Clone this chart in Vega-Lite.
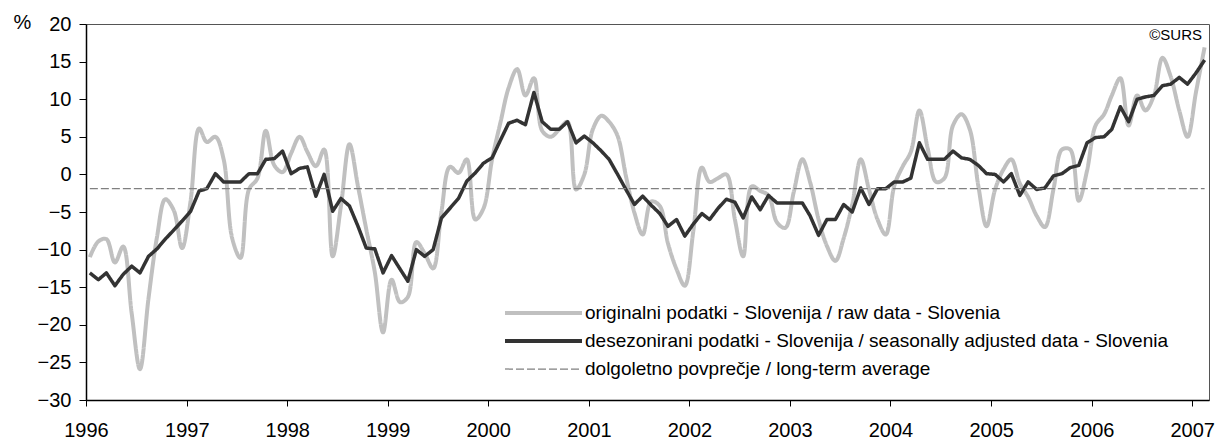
{
  "$schema": "https://vega.github.io/schema/vega-lite/v6.json",
  "width": 1123,
  "height": 376,
  "autosize": {"type": "none"},
  "padding": {"left": 86, "top": 24, "right": 11, "bottom": 41},
  "background": "white",
  "config": {
    "font": "Liberation Sans",
    "view": {"stroke": "#555555", "strokeWidth": 1},
    "axis": {"grid": false, "domainColor": "#000000", "tickColor": "#000000", "labelColor": "#000000", "labelFont": "Liberation Sans", "labelFontSize": 20, "domainWidth": 1.5, "tickWidth": 1}
  },
  "title": {"text": "©SURS", "orient": "top", "anchor": "end", "frame": "group", "offset": -31, "fontSize": 15, "fontWeight": "normal", "color": "#000000", "font": "Liberation Sans", "dx": -7},
  "data": {"values": [
    {"d": "1996-01-15", "raw": -11.0, "sa": -13.1},
    {"d": "1996-02-15", "raw": -8.9, "sa": -14.0},
    {"d": "1996-03-15", "raw": -8.6, "sa": -13.1},
    {"d": "1996-04-15", "raw": -11.7, "sa": -14.8},
    {"d": "1996-05-15", "raw": -9.6, "sa": -13.3},
    {"d": "1996-06-15", "raw": -18.5, "sa": -12.2},
    {"d": "1996-07-15", "raw": -25.9, "sa": -13.1},
    {"d": "1996-08-15", "raw": -16.5, "sa": -10.9},
    {"d": "1996-09-15", "raw": -8.3, "sa": -9.9},
    {"d": "1996-10-15", "raw": -3.3, "sa": -8.6},
    {"d": "1996-11-15", "raw": -4.8, "sa": -7.4},
    {"d": "1996-12-15", "raw": -9.8, "sa": -6.2},
    {"d": "1997-01-15", "raw": -3.5, "sa": -4.9},
    {"d": "1997-02-15", "raw": 6.1, "sa": -2.2},
    {"d": "1997-03-15", "raw": 4.3, "sa": -1.9},
    {"d": "1997-04-15", "raw": 5.0, "sa": 0.1},
    {"d": "1997-05-15", "raw": 2.0, "sa": -1.0},
    {"d": "1997-06-15", "raw": -8.5, "sa": -1.0},
    {"d": "1997-07-15", "raw": -11.1, "sa": -1.0},
    {"d": "1997-08-15", "raw": -2.0, "sa": 0.1},
    {"d": "1997-09-15", "raw": -0.5, "sa": 0.1},
    {"d": "1997-10-15", "raw": 5.8, "sa": 2.0},
    {"d": "1997-11-15", "raw": 1.2, "sa": 2.1},
    {"d": "1997-12-15", "raw": 0.3, "sa": 3.1},
    {"d": "1998-01-15", "raw": 2.8, "sa": 0.1},
    {"d": "1998-02-15", "raw": 5.0, "sa": 0.8},
    {"d": "1998-03-15", "raw": 3.0, "sa": 1.0},
    {"d": "1998-04-15", "raw": 1.1, "sa": -2.9},
    {"d": "1998-05-15", "raw": 3.3, "sa": 0.0},
    {"d": "1998-06-15", "raw": -10.9, "sa": -4.9},
    {"d": "1998-07-15", "raw": -4.2, "sa": -3.2},
    {"d": "1998-08-15", "raw": 4.0, "sa": -4.2},
    {"d": "1998-09-15", "raw": -1.6, "sa": -6.9},
    {"d": "1998-10-15", "raw": -7.3, "sa": -9.8},
    {"d": "1998-11-15", "raw": -13.0, "sa": -9.9},
    {"d": "1998-12-15", "raw": -21.0, "sa": -13.1},
    {"d": "1999-01-15", "raw": -14.0, "sa": -10.8},
    {"d": "1999-02-15", "raw": -17.0, "sa": -12.6},
    {"d": "1999-03-15", "raw": -16.3, "sa": -14.2},
    {"d": "1999-04-15", "raw": -9.0, "sa": -10.0},
    {"d": "1999-05-15", "raw": -10.5, "sa": -10.9},
    {"d": "1999-06-15", "raw": -12.5, "sa": -10.0},
    {"d": "1999-07-15", "raw": -5.0, "sa": -5.8},
    {"d": "1999-08-15", "raw": 1.0, "sa": -4.5},
    {"d": "1999-09-15", "raw": 0.2, "sa": -3.2},
    {"d": "1999-10-15", "raw": 2.0, "sa": -0.9},
    {"d": "1999-11-15", "raw": -6.0, "sa": 0.2},
    {"d": "1999-12-15", "raw": -4.5, "sa": 1.5},
    {"d": "2000-01-15", "raw": 2.0, "sa": 2.2},
    {"d": "2000-02-15", "raw": 7.0, "sa": 4.6},
    {"d": "2000-03-15", "raw": 11.5, "sa": 6.8},
    {"d": "2000-04-15", "raw": 14.0, "sa": 7.2},
    {"d": "2000-05-15", "raw": 10.5, "sa": 6.6},
    {"d": "2000-06-15", "raw": 12.8, "sa": 10.9},
    {"d": "2000-07-15", "raw": 5.8, "sa": 7.0},
    {"d": "2000-08-15", "raw": 5.0, "sa": 6.0},
    {"d": "2000-09-15", "raw": 6.0, "sa": 6.0},
    {"d": "2000-10-15", "raw": 7.0, "sa": 7.0},
    {"d": "2000-11-15", "raw": -2.0, "sa": 4.2},
    {"d": "2000-12-15", "raw": 0.0, "sa": 5.1},
    {"d": "2001-01-15", "raw": 6.0, "sa": 4.2},
    {"d": "2001-02-15", "raw": 7.8, "sa": 3.1},
    {"d": "2001-03-15", "raw": 7.0, "sa": 2.0},
    {"d": "2001-04-15", "raw": 5.1, "sa": 0.0},
    {"d": "2001-05-15", "raw": -0.2, "sa": -2.0},
    {"d": "2001-06-15", "raw": -5.1, "sa": -4.0},
    {"d": "2001-07-15", "raw": -8.0, "sa": -2.9},
    {"d": "2001-08-15", "raw": -3.6, "sa": -4.1},
    {"d": "2001-09-15", "raw": -4.2, "sa": -5.2},
    {"d": "2001-10-15", "raw": -9.2, "sa": -6.9},
    {"d": "2001-11-15", "raw": -12.6, "sa": -6.0},
    {"d": "2001-12-15", "raw": -14.8, "sa": -8.2},
    {"d": "2002-01-15", "raw": -7.5, "sa": -6.6},
    {"d": "2002-02-15", "raw": 0.9, "sa": -5.2},
    {"d": "2002-03-15", "raw": -1.0, "sa": -6.0},
    {"d": "2002-04-15", "raw": -0.5, "sa": -4.5},
    {"d": "2002-05-15", "raw": 0.0, "sa": -3.3},
    {"d": "2002-06-15", "raw": -6.0, "sa": -3.7},
    {"d": "2002-07-15", "raw": -10.9, "sa": -5.8},
    {"d": "2002-08-15", "raw": -1.6, "sa": -3.0},
    {"d": "2002-09-15", "raw": -2.2, "sa": -4.7},
    {"d": "2002-10-15", "raw": -2.8, "sa": -2.8},
    {"d": "2002-11-15", "raw": -6.4, "sa": -3.8},
    {"d": "2002-12-15", "raw": -7.1, "sa": -3.8},
    {"d": "2003-01-15", "raw": -2.3, "sa": -3.8},
    {"d": "2003-02-15", "raw": 2.0, "sa": -3.8},
    {"d": "2003-03-15", "raw": -1.0, "sa": -5.5},
    {"d": "2003-04-15", "raw": -6.0, "sa": -8.1},
    {"d": "2003-05-15", "raw": -9.5, "sa": -6.0},
    {"d": "2003-06-15", "raw": -11.5, "sa": -6.0},
    {"d": "2003-07-15", "raw": -8.5, "sa": -4.0},
    {"d": "2003-08-15", "raw": -4.0, "sa": -5.0},
    {"d": "2003-09-15", "raw": 2.0, "sa": -1.8},
    {"d": "2003-10-15", "raw": -2.0, "sa": -4.0},
    {"d": "2003-11-15", "raw": -6.0, "sa": -1.9},
    {"d": "2003-12-15", "raw": -8.0, "sa": -1.9},
    {"d": "2004-01-15", "raw": -1.5, "sa": -1.0},
    {"d": "2004-02-15", "raw": 1.1, "sa": -1.0},
    {"d": "2004-03-15", "raw": 3.0, "sa": -0.5},
    {"d": "2004-04-15", "raw": 8.5, "sa": 4.2},
    {"d": "2004-05-15", "raw": 3.5, "sa": 2.0},
    {"d": "2004-06-15", "raw": -1.0, "sa": 2.0},
    {"d": "2004-07-15", "raw": -0.5, "sa": 2.0},
    {"d": "2004-08-15", "raw": 6.5, "sa": 3.1},
    {"d": "2004-09-15", "raw": 8.0, "sa": 2.2},
    {"d": "2004-10-15", "raw": 6.0, "sa": 2.0},
    {"d": "2004-11-15", "raw": -1.5, "sa": 1.2},
    {"d": "2004-12-15", "raw": -6.9, "sa": 0.1},
    {"d": "2005-01-15", "raw": -2.0, "sa": 0.0},
    {"d": "2005-02-15", "raw": 0.7, "sa": -1.0},
    {"d": "2005-03-15", "raw": 2.0, "sa": 0.1},
    {"d": "2005-04-15", "raw": -1.2, "sa": -2.8},
    {"d": "2005-05-15", "raw": -3.0, "sa": -1.0},
    {"d": "2005-06-15", "raw": -5.5, "sa": -2.0},
    {"d": "2005-07-15", "raw": -7.0, "sa": -1.8},
    {"d": "2005-08-15", "raw": -2.0, "sa": -0.2},
    {"d": "2005-09-15", "raw": 3.3, "sa": 0.1},
    {"d": "2005-10-15", "raw": 3.3, "sa": 0.9},
    {"d": "2005-11-15", "raw": -3.5, "sa": 1.2},
    {"d": "2005-12-15", "raw": 0.5, "sa": 4.2},
    {"d": "2006-01-15", "raw": 6.5, "sa": 4.9},
    {"d": "2006-02-15", "raw": 8.0, "sa": 5.0},
    {"d": "2006-03-15", "raw": 10.5, "sa": 6.0},
    {"d": "2006-04-15", "raw": 12.8, "sa": 9.0},
    {"d": "2006-05-15", "raw": 6.5, "sa": 7.0},
    {"d": "2006-06-15", "raw": 10.5, "sa": 10.0},
    {"d": "2006-07-15", "raw": 8.5, "sa": 10.3},
    {"d": "2006-08-15", "raw": 10.5, "sa": 10.5},
    {"d": "2006-09-15", "raw": 15.5, "sa": 11.8},
    {"d": "2006-10-15", "raw": 13.0, "sa": 12.0},
    {"d": "2006-11-15", "raw": 8.5, "sa": 12.9},
    {"d": "2006-12-15", "raw": 5.0, "sa": 12.0},
    {"d": "2007-01-15", "raw": 11.0, "sa": 13.5},
    {"d": "2007-02-15", "raw": 16.9, "sa": 15.2}
  ]},
  "encoding": {
    "x": {"field": "d", "type": "temporal",
      "scale": {"type": "utc", "domain": [{"year": 1996, "month": 1, "date": 1, "utc": true}, {"year": 2007, "month": 3, "date": 3, "utc": true}]},
      "axis": {"title": null, "format": "%Y", "tickCount": {"interval": "year", "step": 1}, "tickSize": 6, "labelPadding": 14, "labelDx": 3, "labelFlush": false, "labelOverlap": false}},
    "y": {"field": "value", "type": "quantitative",
      "scale": {"domain": [-30, 20], "nice": false, "zero": false},
      "axis": {"values": [-30, -25, -20, -15, -10, -5, 0, 5, 10, 15, 20], "tickSize": 7, "labelPadding": 8, "labelFlush": false, "title": "%", "titleAngle": 0, "titleAlign": "left", "titleBaseline": "middle", "titleX": -73, "titleY": -2, "titleFontSize": 20, "titleFontWeight": "normal", "titleColor": "#000000", "titleFont": "Liberation Sans"}},
    "color": {"field": "series", "type": "nominal",
      "scale": {"domain": ["raw", "sa", "avg"], "range": ["#c0c0c0", "#333333", "#808080"]},
      "legend": {"title": null, "orient": "none", "legendX": 419, "legendY": 276, "padding": 0, "symbolType": "stroke", "symbolSize": 5929, "symbolOffset": 29, "clipHeight": 26, "rowPadding": 2, "labelOffset": 32, "labelFontSize": 19, "labelFont": "Liberation Sans", "labelColor": "#000000", "labelLimit": 0, "symbolStrokeWidth": 4,
        "labelExpr": "datum.value === 'raw' ? 'originalni podatki - Slovenija / raw data - Slovenia' : datum.value === 'sa' ? 'desezonirani podatki - Slovenija / seasonally adjusted data - Slovenia' : 'dolgoletno povprečje / long-term average'",
        "encode": {"symbols": {"update": {"strokeWidth": {"signal": "datum.value === 'avg' ? 1.25 : 4"}}}}}},
    "strokeDash": {"field": "series", "type": "nominal",
      "scale": {"domain": ["raw", "sa", "avg"], "range": [[1, 0], [1, 0], [8, 3]]},
      "legend": {"title": null, "orient": "none", "legendX": 419, "legendY": 276, "padding": 0, "symbolType": "stroke", "symbolSize": 5929, "symbolOffset": 29, "clipHeight": 26, "rowPadding": 2, "labelOffset": 32, "labelFontSize": 19, "labelFont": "Liberation Sans", "labelColor": "#000000", "labelLimit": 0, "symbolStrokeWidth": 4,
        "labelExpr": "datum.value === 'raw' ? 'originalni podatki - Slovenija / raw data - Slovenia' : datum.value === 'sa' ? 'desezonirani podatki - Slovenija / seasonally adjusted data - Slovenia' : 'dolgoletno povprečje / long-term average'",
        "encode": {"symbols": {"update": {"strokeWidth": {"signal": "datum.value === 'avg' ? 1.25 : 4"}}}}}}
  },
  "layer": [
    {
      "transform": [{"fold": ["raw"], "as": ["series", "value"]}],
      "mark": {"type": "line", "strokeWidth": 4, "interpolate": "catmull-rom", "strokeJoin": "round"}
    },
    {
      "transform": [{"fold": ["sa"], "as": ["series", "value"]}],
      "mark": {"type": "line", "strokeWidth": 3.5, "strokeJoin": "round"}
    },
    {
      "data": {"values": [
        {"d": "1996-01-15", "series": "avg", "value": -1.9},
        {"d": "2007-02-15", "series": "avg", "value": -1.9}
      ]},
      "mark": {"type": "line", "strokeWidth": 1.25}
    }
  ]
}
